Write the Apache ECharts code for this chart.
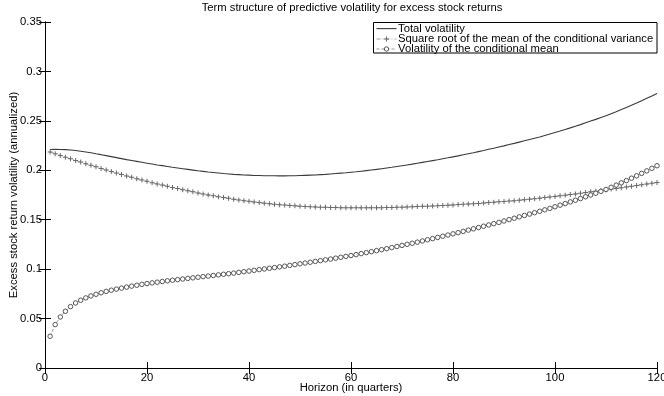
<!DOCTYPE html>
<html>
<head>
<meta charset="utf-8">
<script src="https://cdn.jsdelivr.net/npm/echarts@6/dist/echarts.min.js"></script>
<style>
  html, body { margin: 0; padding: 0; background: #fff; }
  #chart { width: 664px; height: 396px; }
</style>
</head>
<body>
<div id="chart"></div>
<script>
// Horizons 1..120 quarters
const quarters = Array.from({ length: 120 }, (_, i) => i + 1);

// Total predictive volatility
const totalVol = [
  0.2210, 0.2212, 0.2211, 0.2209, 0.2205, 0.2200, 0.2193, 0.2185, 0.2177, 0.2167,
  0.2158, 0.2148, 0.2138, 0.2128, 0.2118, 0.2108, 0.2099, 0.2090, 0.2081, 0.2072,
  0.2063, 0.2054, 0.2047, 0.2039, 0.2030, 0.2023, 0.2016, 0.2009, 0.2002, 0.1995,
  0.1989, 0.1983, 0.1978, 0.1973, 0.1967, 0.1963, 0.1959, 0.1956, 0.1953, 0.1951,
  0.1948, 0.1947, 0.1945, 0.1944, 0.1944, 0.1943, 0.1943, 0.1944, 0.1945, 0.1947,
  0.1949, 0.1951, 0.1953, 0.1956, 0.1959, 0.1963, 0.1967, 0.1971, 0.1975, 0.1980,
  0.1985, 0.1991, 0.1997, 0.2003, 0.2009, 0.2016, 0.2023, 0.2030, 0.2038, 0.2046,
  0.2054, 0.2062, 0.2071, 0.2080, 0.2089, 0.2098, 0.2107, 0.2117, 0.2126, 0.2136,
  0.2146, 0.2157, 0.2168, 0.2178, 0.2189, 0.2200, 0.2212, 0.2223, 0.2235, 0.2247,
  0.2260, 0.2272, 0.2285, 0.2298, 0.2311, 0.2324, 0.2337, 0.2352, 0.2367, 0.2382,
  0.2397, 0.2413, 0.2429, 0.2446, 0.2462, 0.2480, 0.2498, 0.2515, 0.2534, 0.2552,
  0.2573, 0.2593, 0.2614, 0.2636, 0.2658, 0.2680, 0.2704, 0.2728, 0.2752, 0.2777
];

// Square root of the mean of the conditional variance
const condVarRoot = [
  0.2186, 0.2168, 0.2150, 0.2133, 0.2116, 0.2099, 0.2083, 0.2067, 0.2051, 0.2035,
  0.2019, 0.2003, 0.1988, 0.1973, 0.1958, 0.1943, 0.1929, 0.1915, 0.1901, 0.1888,
  0.1875, 0.1862, 0.1850, 0.1838, 0.1826, 0.1815, 0.1804, 0.1793, 0.1782, 0.1771,
  0.1761, 0.1751, 0.1742, 0.1733, 0.1724, 0.1716, 0.1708, 0.1700, 0.1693, 0.1686,
  0.1679, 0.1673, 0.1667, 0.1662, 0.1657, 0.1652, 0.1648, 0.1644, 0.1640, 0.1637,
  0.1634, 0.1631, 0.1629, 0.1627, 0.1625, 0.1624, 0.1623, 0.1622, 0.1621, 0.1620,
  0.1620, 0.1620, 0.1620, 0.1621, 0.1621, 0.1622, 0.1623, 0.1624, 0.1626, 0.1627,
  0.1629, 0.1631, 0.1633, 0.1635, 0.1637, 0.1639, 0.1641, 0.1644, 0.1647, 0.1650,
  0.1653, 0.1656, 0.1659, 0.1662, 0.1665, 0.1669, 0.1673, 0.1677, 0.1681, 0.1685,
  0.1689, 0.1693, 0.1698, 0.1703, 0.1708, 0.1713, 0.1718, 0.1724, 0.1730, 0.1736,
  0.1742, 0.1748, 0.1754, 0.1761, 0.1768, 0.1775, 0.1782, 0.1789, 0.1796, 0.1803,
  0.1810, 0.1817, 0.1824, 0.1831, 0.1838, 0.1845, 0.1853, 0.1861, 0.1869, 0.1877
];

// Volatility of the conditional mean
const condMeanVol = [
  0.0321, 0.0439, 0.0516, 0.0574, 0.0621, 0.0658, 0.0686, 0.0709, 0.0729, 0.0746,
  0.0761, 0.0775, 0.0787, 0.0798, 0.0808, 0.0818, 0.0828, 0.0837, 0.0846, 0.0854,
  0.0861, 0.0868, 0.0875, 0.0882, 0.0888, 0.0894, 0.0900, 0.0906, 0.0912, 0.0918,
  0.0924, 0.0930, 0.0936, 0.0942, 0.0948, 0.0954, 0.0960, 0.0967, 0.0974, 0.0981,
  0.0988, 0.0995, 0.1002, 0.1009, 0.1016, 0.1023, 0.1030, 0.1038, 0.1046, 0.1054,
  0.1062, 0.1070, 0.1078, 0.1086, 0.1094, 0.1102, 0.1111, 0.1120, 0.1129, 0.1138,
  0.1147, 0.1157, 0.1167, 0.1177, 0.1187, 0.1197, 0.1207, 0.1218, 0.1229, 0.1240,
  0.1251, 0.1262, 0.1273, 0.1285, 0.1297, 0.1309, 0.1321, 0.1333, 0.1345, 0.1357,
  0.1369, 0.1382, 0.1395, 0.1408, 0.1421, 0.1434, 0.1447, 0.1460, 0.1473, 0.1487,
  0.1501, 0.1515, 0.1529, 0.1543, 0.1557, 0.1571, 0.1585, 0.1600, 0.1615, 0.1631,
  0.1647, 0.1663, 0.1680, 0.1697, 0.1714, 0.1732, 0.1750, 0.1768, 0.1787, 0.1806,
  0.1828, 0.1850, 0.1873, 0.1896, 0.1920, 0.1944, 0.1969, 0.1994, 0.2020, 0.2046
];

const seriesNames = [
  'Total volatility',
  'Square root of the mean of the conditional variance',
  'Volatility of the conditional mean'
];

// Axis ranges
const xRange = { min: 0, max: 120, step: 20 };
const yRange = { min: 0, max: 0.35, step: 0.05 };

const FONT = 'Liberation Sans, Arial, Helvetica, sans-serif';
const FS = 11.25;
const plusPath = 'path://M4,0h2v4h4v2h-4v4h-2v-4h-4v-2h4z';

// Line styles shared by series and key
const styles = [
  { line: { stroke: '#3a3a3a', lineWidth: 1.1 } },
  { line: { stroke: '#8a8a8a', lineWidth: 0.8, lineDash: [4, 2, 1, 2] }, mark: 'plus' },
  { line: { stroke: '#7a7a7a', lineWidth: 0.8, lineDash: [3, 2] }, mark: 'circle' }
];

const pairs = vals => quarters.map((q, i) => [q, vals[i]]);

const tickStyle = { show: true, inside: true, length: 6, lineStyle: { color: '#000', width: 1 } };
const lineStyleAxis = { show: true, lineStyle: { color: '#000', width: 1 } };

// Boxed key in the upper right corner of the plot
const key = { left: 373.5, top: 22.5, width: 283.5, height: 30.5, rows: [28.6, 39.0, 49.0] };
const keyElements = [{
  type: 'rect', z: 100,
  shape: { x: key.left, y: key.top, width: key.width, height: key.height },
  style: { fill: '#fff', stroke: '#000', lineWidth: 1 }
}];
seriesNames.forEach((name, i) => {
  const y = key.rows[i];
  keyElements.push({
    type: 'line', z: 101,
    shape: { x1: key.left + 3, y1: y, x2: key.left + 23, y2: y },
    style: Object.assign({}, styles[i].line)
  });
  if (styles[i].mark === 'plus') {
    const cx = key.left + 13;
    keyElements.push({
      type: 'rect', z: 102,
      shape: { x: cx - 2.5, y: y - 0.5, width: 5, height: 1 },
      style: { fill: '#6a6a6a' }
    });
    keyElements.push({
      type: 'rect', z: 102,
      shape: { x: cx - 0.5, y: y - 2.5, width: 1, height: 5 },
      style: { fill: '#6a6a6a' }
    });
  } else if (styles[i].mark === 'circle') {
    keyElements.push({
      type: 'circle', z: 102,
      shape: { cx: key.left + 13, cy: y, r: 2.2 },
      style: { fill: '#fff', stroke: '#555', lineWidth: 1 }
    });
  }
  keyElements.push({
    type: 'text', z: 101,
    x: key.left + 24.5, y: y,
    style: { text: name, fontFamily: FONT, fontSize: FS, fill: '#000', verticalAlign: 'middle', align: 'left' }
  });
});

const chart = echarts.init(document.getElementById('chart'), null, { renderer: 'canvas' });

chart.setOption({
  animation: false,
  backgroundColor: '#fff',
  textStyle: { fontFamily: FONT },
  title: {
    text: 'Term structure of predictive volatility for excess stock returns',
    left: 352, top: 2, textAlign: 'center', padding: 0,
    textStyle: { fontFamily: FONT, fontSize: FS, fontWeight: 'normal', color: '#000' }
  },
  grid: { left: 45, right: 7, top: 22, bottom: 28, outerBoundsMode: 'none' },
  xAxis: [
    {
      type: 'value', min: xRange.min, max: xRange.max, interval: xRange.step,
      name: 'Horizon (in quarters)', nameLocation: 'middle', nameGap: 14, nameMoveOverlap: false,
      nameTextStyle: { fontFamily: FONT, fontSize: FS, color: '#000', verticalAlign: 'top' },
      axisLine: lineStyleAxis, axisTick: tickStyle,
      axisLabel: { fontFamily: FONT, fontSize: FS, color: '#000', margin: 4 },
      splitLine: { show: false }
    },
    {
      type: 'value', position: 'top', min: xRange.min, max: xRange.max, interval: xRange.step,
      axisLine: lineStyleAxis, axisTick: tickStyle,
      axisLabel: { show: false }, splitLine: { show: false }
    }
  ],
  yAxis: [
    {
      type: 'value', min: yRange.min, max: yRange.max, interval: yRange.step,
      name: 'Excess stock return volatility (annualized)', nameLocation: 'middle', nameGap: 26,
      nameMoveOverlap: false,
      nameTextStyle: { fontFamily: FONT, fontSize: FS, color: '#000' },
      axisLine: lineStyleAxis, axisTick: tickStyle,
      axisLabel: {
        fontFamily: FONT, fontSize: FS, color: '#000', margin: 3,
        formatter: v => String(+v.toFixed(2))
      },
      splitLine: { show: false }
    },
    {
      type: 'value', position: 'right', min: yRange.min, max: yRange.max, interval: yRange.step,
      axisLine: lineStyleAxis, axisTick: tickStyle,
      axisLabel: { show: false }, splitLine: { show: false }
    }
  ],
  graphic: keyElements,
  series: [
    {
      name: seriesNames[0], type: 'line', data: pairs(totalVol),
      symbol: 'none', showSymbol: false,
      lineStyle: { color: styles[0].line.stroke, width: styles[0].line.lineWidth },
      z: 3
    },
    {
      name: seriesNames[1], type: 'line', data: pairs(condVarRoot),
      symbol: plusPath, symbolSize: 5, showSymbol: true,
      lineStyle: { color: styles[1].line.stroke, width: styles[1].line.lineWidth, type: styles[1].line.lineDash },
      itemStyle: { color: '#6a6a6a', borderWidth: 0 },
      z: 2
    },
    {
      name: seriesNames[2], type: 'line', data: pairs(condMeanVol),
      symbol: 'circle', symbolSize: 4.5, showSymbol: true,
      lineStyle: { color: styles[2].line.stroke, width: styles[2].line.lineWidth, type: styles[2].line.lineDash },
      itemStyle: { color: '#fff', borderColor: '#555', borderWidth: 1 },
      z: 2
    }
  ]
});
</script>
</body>
</html>
